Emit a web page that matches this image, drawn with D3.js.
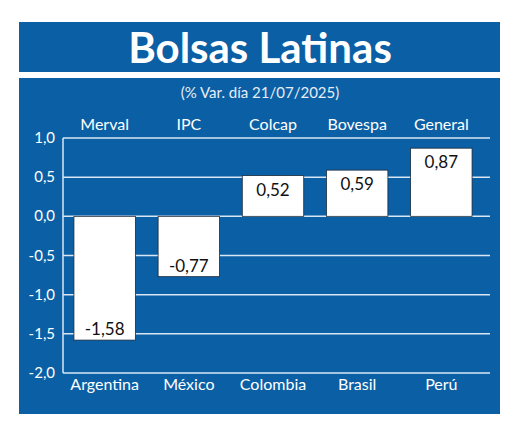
<!DOCTYPE html>
<html><head><meta charset="utf-8">
<script src="https://cdn.jsdelivr.net/npm/d3@7"></script>
<style>body{margin:0;background:#fff}</style>
</head><body>
<svg id="chart" width="520" height="430"></svg>
<script>
const indices = ['Merval', 'IPC', 'Colcap', 'Bovespa', 'General'];
const countries = ['Argentina', 'México', 'Colombia', 'Brasil', 'Perú'];
const values = [-1.58, -0.77, 0.52, 0.59, 0.87];
const yTicks = [1, 0.5, 0, -0.5, -1, -1.5, -2];

const blue = '#0b5fa5';
const svg = d3.select('#chart');
const font = 'Lato, "Open Sans", sans-serif';

svg.append('rect').attr('x', 19).attr('y', 22).attr('width', 481).attr('height', 50).attr('fill', blue);
svg.append('rect').attr('x', 19).attr('y', 78).attr('width', 481).attr('height', 336).attr('fill', blue);

svg.append('text').attr('x', 260).attr('y', 63).attr('text-anchor', 'middle')
  .attr('fill', '#fff').attr('font-family', font).attr('font-weight', 'bold')
  .attr('font-size', 42).text('Bolsas Latinas');
svg.append('text').attr('x', 260).attr('y', 98).attr('text-anchor', 'middle')
  .attr('fill', '#e6edf5').attr('font-family', font).attr('font-size', 15)
  .text('(% Var. día 21/07/2025)');

const x = d3.scaleBand().domain(countries).range([63, 483]).paddingInner(0.27).paddingOuter(0.13);
const y = d3.scaleLinear().domain([-2, 1]).range([373, 138]);

// grid
svg.append('g').selectAll('line').data(yTicks).enter().append('line')
  .attr('x1', 63).attr('x2', 490)
  .attr('y1', d => y(d)).attr('y2', d => y(d))
  .attr('stroke', '#d9e6f3').attr('stroke-width', 1.5);
svg.append('line').attr('x1', 63).attr('x2', 63).attr('y1', y(1)).attr('y2', y(-2))
  .attr('stroke', '#d9e6f3').attr('stroke-width', 1.5);

svg.append('g').selectAll('text').data(yTicks).enter().append('text')
  .attr('x', 55).attr('y', d => y(d) + 5).attr('text-anchor', 'end')
  .attr('fill', '#fff').attr('font-family', font).attr('font-size', 15)
  .text(d => d3.format('.1f')(d).replace('.', ',').replace('−', '-'));

svg.append('g').selectAll('rect').data(values).enter().append('rect')
  .attr('x', (d, i) => x(countries[i]))
  .attr('width', x.bandwidth())
  .attr('y', d => y(Math.max(0, d)))
  .attr('height', d => Math.abs(y(d) - y(0)))
  .attr('fill', '#fff').attr('stroke', '#1b2a3a').attr('stroke-width', 0.8);

svg.append('g').selectAll('text').data(values).enter().append('text')
  .attr('x', (d, i) => x(countries[i]) + x.bandwidth() / 2)
  .attr('y', d => d > 0 ? y(d) + 20 : y(d) - 5)
  .attr('text-anchor', 'middle').attr('fill', '#111')
  .attr('font-family', font).attr('font-size', 17)
  .text(d => d.toFixed(2).replace('.', ','));

svg.append('g').selectAll('text').data(indices).enter().append('text')
  .attr('x', (d, i) => x(countries[i]) + x.bandwidth() / 2)
  .attr('y', 130).attr('text-anchor', 'middle').attr('fill', '#fff')
  .attr('font-family', font).attr('font-size', 16).text(d => d);

svg.append('g').selectAll('text').data(countries).enter().append('text')
  .attr('x', d => x(d) + x.bandwidth() / 2)
  .attr('y', 390).attr('text-anchor', 'middle').attr('fill', '#fff')
  .attr('font-family', font).attr('font-size', 16).text(d => d);
</script>
</body></html>
